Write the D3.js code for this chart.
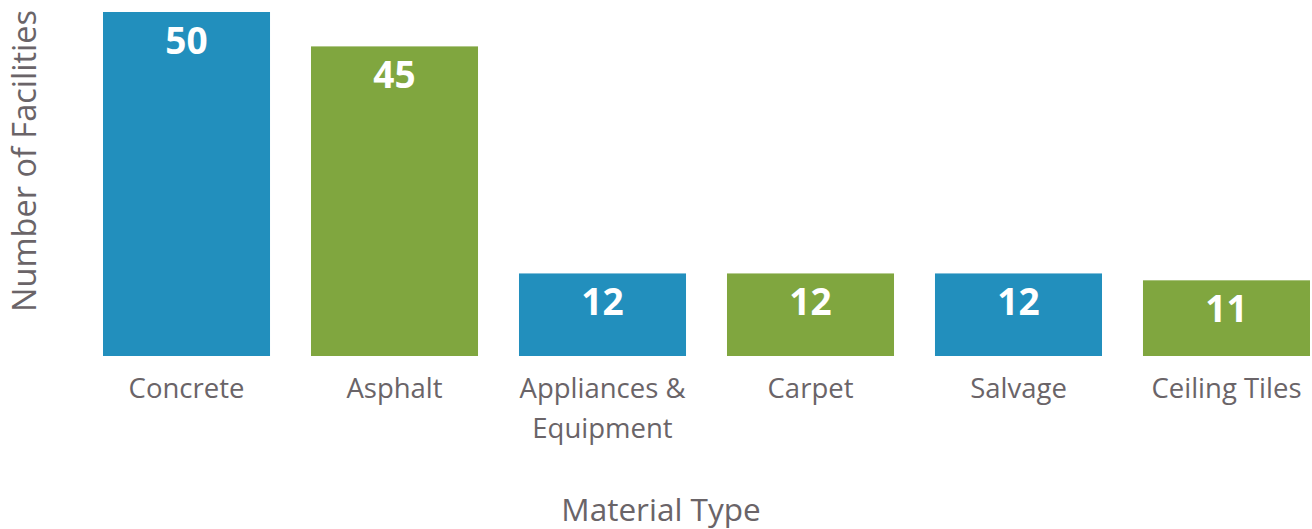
<!DOCTYPE html>
<html>
<head>
<meta charset="utf-8">
<script src="https://cdn.jsdelivr.net/npm/d3@7"></script>
<style>
  body { margin: 0; background: #fff; }
  text { font-family: "Open Sans", sans-serif; }
</style>
</head>
<body>
<svg id="chart" width="1312" height="529"></svg>
<script>
var categories = [["Concrete"], ["Asphalt"], ["Appliances &", "Equipment"], ["Carpet"], ["Salvage"], ["Ceiling Tiles"]];
var values = [50, 45, 12, 12, 12, 11];
var colors = ["#228fbd", "#80a63f"];

var svg = d3.select("#chart");
var baseline = 356;

var x = d3.scaleBand()
    .domain(d3.range(values.length))
    .range([103, 1310])
    .paddingInner(0.197)
    .paddingOuter(0);

var y = d3.scaleLinear().domain([0, 50]).range([baseline, 12]);

var bar = svg.selectAll("g.bar").data(values)
  .enter().append("g")
    .attr("class", "bar")
    .attr("transform", function(d, i) { return "translate(" + x(i) + ",0)"; });

bar.append("rect")
    .attr("y", function(d) { return y(d); })
    .attr("width", x.bandwidth())
    .attr("height", function(d) { return baseline - y(d); })
    .attr("fill", function(d, i) { return colors[i % 2]; });

bar.append("text")
    .attr("x", x.bandwidth() / 2)
    .attr("y", function(d) { return y(d) + 42; })
    .attr("text-anchor", "middle")
    .attr("fill", "#fff")
    .attr("font-size", 37)
    .attr("font-weight", "bold")
    .text(function(d) { return d; });

var lab = bar.append("text")
    .attr("text-anchor", "middle")
    .attr("fill", "#6a6468")
    .attr("font-size", 27.5);
lab.selectAll("tspan").data(function(d, i) { return categories[i]; })
  .enter().append("tspan")
    .attr("x", x.bandwidth() / 2)
    .attr("y", function(d, j) { return 398 + j * 40; })
    .text(function(d) { return d; });

svg.append("text")
    .attr("x", 661)
    .attr("y", 521)
    .attr("text-anchor", "middle")
    .attr("fill", "#6a6468")
    .attr("font-size", 31.5)
    .attr("font-family", "Open Sans")
    .text("Material Type");

svg.append("text")
    .attr("transform", "translate(36,161) rotate(-90)")
    .attr("text-anchor", "middle")
    .attr("fill", "#6a6468")
    .attr("font-size", 32.5)
    .text("Number of Facilities");
</script>
</body>
</html>
